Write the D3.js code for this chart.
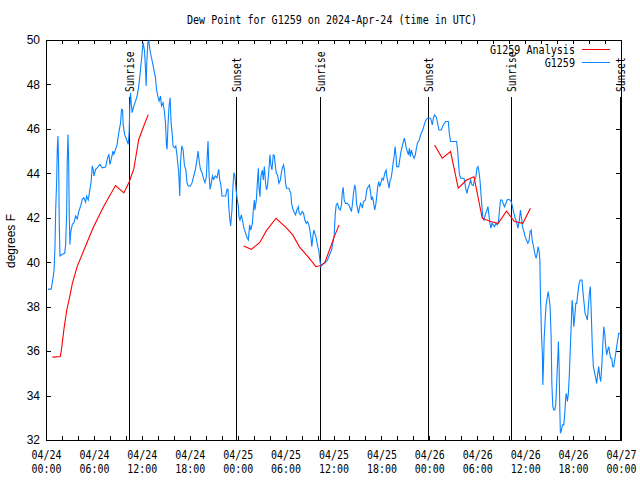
<!DOCTYPE html>
<html><head><meta charset="utf-8">
<script src="https://cdn.jsdelivr.net/npm/d3@7"></script>
<style>body{margin:0;background:#fff}</style>
</head><body>
<svg id="c" width="640" height="480"></svg>
<script>
// ---------------- data ----------------
const startTime = "2024-04-24T00:00:00Z";
const spanHours = 72;
const titleText = "Dew Point for G1259 on 2024-Apr-24 (time in UTC)";
const yLabelText = "degrees F";
const yDomain = [32, 50];
const yTickValues = [32, 34, 36, 38, 40, 42, 44, 46, 48, 50];
const seriesNames = ["G1259 Analysis", "G1259"];
const seriesColors = ["#ff0000", "#0a84ff"];
// sun events: [label, hours after start]
const sunEvents = [["Sunrise", 10.45], ["Sunset", 23.88], ["Sunrise", 34.4], ["Sunset", 47.88], ["Sunrise", 58.3], ["Sunset", 71.9]];
const sunLineTopValue = 47.43;

// analysis series (hours after start, degrees F), three separate runs
const analysis1 = [[0.8,35.73],[1.8,35.76],[1.95,36.1],[2.25,37.0],[2.6,37.85],[3.0,38.5],[3.3,39.05],[3.9,39.8],[4.75,40.55],[5.9,41.55],[7.2,42.5],[8.7,43.45],[9.75,43.12],[10.4,43.6],[11.0,44.2],[11.6,45.5],[12.05,45.95],[12.8,46.64]];
const analysis2 = [[24.75,40.73],[25.7,40.58],[26.75,40.88],[27.6,41.42],[28.8,41.98],[30.1,41.55],[30.9,41.23],[31.75,40.68],[32.8,40.25],[33.8,39.8],[34.4,39.85],[34.9,39.97],[35.5,40.55],[36.1,41.15],[36.7,41.68]];
const analysis3 = [[48.66,45.27],[49.62,44.68],[50.66,44.98],[51.62,43.33],[52.66,43.7],[53.59,43.85],[54.62,41.98],[55.66,41.83],[56.62,41.75],[57.66,42.3],[58.66,41.83],[59.71,41.75],[60.66,42.43]];

// observed series (hours after start, degrees F)
const observed = [
[0.25,38.78],[0.66,38.8],[0.79,39.08],[1.0,39.6],[1.12,40.65],[1.21,42.3],[1.34,43.73],[1.41,45.08],[1.5,45.68],[1.59,44.18],[1.66,41.78],[1.75,40.28],
[2.04,40.36],[2.34,40.4],[2.46,40.8],[2.59,42.23],[2.66,44.55],[2.75,45.75],[2.84,44.48],[2.91,42.15],[3.0,40.8],[3.09,41.33],[3.29,41.7],[3.5,41.78],
[3.71,42.08],[3.91,41.95],[4.12,42.3],[4.34,42.53],[4.54,42.83],[4.75,42.9],[4.96,42.7],[5.09,42.98],[5.29,42.8],[5.5,43.28],[5.66,43.65],[5.79,44.33],
[5.91,44.18],[6.0,43.88],[6.21,44.18],[6.41,44.25],[6.75,44.4],[7.04,44.25],[7.46,44.28],[7.66,44.63],[7.88,44.86],[8.0,44.4],[8.21,44.7],[8.38,45.0],
[8.5,44.86],[8.71,45.08],[8.91,45.3],[9.12,45.83],[9.34,46.28],[9.46,46.88],[9.59,46.85],[9.66,46.2],[9.84,45.75],[10.0,45.6],[10.16,45.45],[10.29,45.3],
[10.41,45.83],[10.5,47.1],[10.59,47.63],[10.66,47.2],[10.79,46.73],[11.0,47.03],[11.21,47.25],[11.41,47.48],[11.62,47.93],[11.84,48.68],[12.04,49.43],
[12.16,49.88],[12.34,49.5],[12.46,48.68],[12.54,47.93],[12.62,48.98],[12.75,49.88],[12.88,49.95],[13.0,49.58],[13.16,49.28],[13.34,48.98],[13.5,48.68],
[13.71,48.3],[13.84,47.78],[14.0,47.48],[14.16,47.25],[14.34,47.48],[14.46,47.03],[14.66,47.18],[14.84,46.73],[14.96,46.28],[15.09,45.23],[15.16,45.08],
[15.29,46.28],[15.41,47.03],[15.54,47.4],[15.66,46.28],[15.79,45.83],[15.91,45.23],[16.09,45.15],[16.25,45.23],[16.41,44.78],[16.62,44.03],[16.75,42.98],
[16.84,44.48],[17.0,45.23],[17.16,45.08],[17.34,44.33],[17.5,44.18],[17.66,43.58],[17.79,43.43],[18.09,43.43],[18.29,43.58],[18.5,43.88],[18.71,44.18],
[18.91,44.63],[19.04,45.0],[19.21,44.48],[19.34,44.18],[19.54,44.03],[19.75,43.73],[19.91,43.58],[20.09,43.88],[20.21,44.93],[20.29,45.45],[20.41,44.03],
[20.54,43.28],[20.71,43.58],[20.84,43.88],[21.0,43.73],[21.21,43.88],[21.41,43.8],[21.62,44.18],[21.75,43.73],[21.91,43.43],[22.04,42.98],[22.5,42.98],
[22.66,43.28],[22.79,43.28],[22.88,42.53],[23.0,42.0],[23.12,41.63],[23.29,42.38],[23.41,43.43],[23.54,44.03],[23.66,43.88],[23.79,43.28],
[23.96,42.8],[24.09,42.5],[24.16,42.05],[24.29,41.9],[24.46,42.13],[24.59,41.9],[24.79,41.53],[25.0,41.3],[25.21,41.08],[25.34,41.0],[25.5,41.68],
[25.66,41.45],[25.84,41.75],[25.96,42.35],[26.09,42.8],[26.16,42.35],[26.34,42.8],[26.46,43.55],[26.59,44.23],[26.66,43.4],[26.79,42.95],[26.91,43.85],
[27.09,44.15],[27.21,43.7],[27.34,44.3],[27.5,43.55],[27.62,43.25],[27.75,43.48],[27.91,44.15],[28.04,44.83],[28.16,44.38],[28.29,44.15],[28.46,44.83],
[28.59,44.8],[28.71,44.38],[28.84,44.0],[29.0,43.93],[29.16,43.55],[29.34,43.7],[29.46,44.0],[29.59,44.23],[29.75,44.38],[29.88,44.08],[30.0,43.55],
[30.12,43.33],[30.41,43.33],[30.66,43.1],[30.75,42.65],[30.88,42.43],[31.04,42.28],[31.25,42.13],[31.41,42.35],[31.59,42.5],[31.71,42.2],[31.88,42.13],
[32.09,42.28],[32.25,42.2],[32.41,41.9],[32.59,41.75],[32.75,41.83],[32.91,41.68],[33.04,41.45],[33.16,41.15],[33.29,40.7],[33.41,41.15],[33.54,41.45],
[33.66,41.3],[33.79,41.15],[33.91,40.93],[34.04,40.7],[34.16,40.55],[34.29,40.1],[34.41,39.8],[34.59,39.88],[34.75,39.95],[35.09,40.03],[35.25,40.1],
[35.41,40.25],[35.59,40.4],[35.75,40.55],[35.91,40.85],[36.09,41.23],[36.21,42.13],[36.34,42.58],[36.5,42.65],[36.66,42.43],[36.84,42.35],[37.0,42.58],
[37.09,43.1],[37.21,43.37],[37.34,42.8],[37.5,42.65],[37.71,42.65],[37.91,42.58],[38.09,42.43],[38.25,42.28],[38.38,42.65],[38.5,43.1],[38.66,43.48],
[38.79,43.25],[38.88,42.65],[39.0,42.43],[39.12,42.2],[39.25,42.43],[39.38,42.65],[39.5,42.58],[39.62,42.43],[39.75,42.73],[40.0,42.8],[40.16,43.25],
[40.34,43.4],[40.5,43.48],[40.66,43.1],[40.75,42.8],[40.88,42.95],[41.0,42.73],[41.16,42.35],[41.29,42.58],[41.41,42.95],[41.54,43.4],[41.66,43.63],
[41.79,43.4],[41.91,43.55],[42.09,43.78],[42.25,43.7],[42.41,44.0],[42.59,44.15],[42.71,43.78],[42.84,43.55],[42.96,43.33],[43.09,43.7],[43.21,43.78],
[43.34,44.08],[43.46,44.45],[43.59,44.75],[43.71,45.2],[43.84,44.75],[43.91,44.3],[44.16,44.3],[44.29,44.6],[44.41,44.9],[44.59,45.2],[44.75,45.43],
[44.88,45.58],[45.0,45.35],[45.12,45.13],[45.25,44.98],[45.38,44.83],[45.5,45.13],[45.62,44.75],[45.75,45.05],[45.91,44.83],[46.09,44.68],[46.25,44.83],
[46.38,45.13],[46.5,45.35],[46.62,45.43],[46.75,45.5],[46.91,45.73],[47.09,45.88],[47.25,46.03],[47.41,46.25],[47.59,46.4],[47.75,46.48],
[48.16,46.48],[48.38,46.18],[48.5,46.48],[48.66,46.63],[48.84,46.55],[49.0,46.33],[49.21,45.95],[49.5,45.95],[49.75,46.18],[50.04,46.33],[50.38,46.33],
[50.5,45.8],[50.66,45.43],[51.09,45.43],[51.41,45.43],[51.54,45.05],[51.66,44.45],[51.75,44.0],[51.91,43.78],[52.34,43.78],[52.46,43.55],[52.59,43.25],
[52.71,43.1],[52.84,43.33],[53.0,43.48],[53.16,43.7],[53.34,43.48],[53.5,43.45],[53.66,43.7],[53.84,43.85],[53.96,44.23],[54.09,44.3],[54.21,44.08],
[54.34,43.7],[54.46,43.1],[54.59,42.5],[54.71,41.98],[54.84,41.9],[55.0,42.13],[55.16,42.28],[55.34,42.5],[55.46,42.13],[55.59,41.75],[55.71,41.53],
[55.84,41.75],[56.0,41.68],[56.16,41.6],[56.34,41.75],[56.5,41.68],[56.66,41.83],[56.79,42.35],[56.91,42.8],[57.09,42.8],[57.25,42.65],[57.41,42.5],
[57.59,42.65],[57.75,42.8],[57.91,42.83],[58.09,42.8],[58.25,42.73],[58.41,42.5],[58.59,42.2],[58.75,41.98],[58.91,41.83],[59.09,41.53],[59.25,41.83],
[59.41,42.35],[59.54,42.0],[59.66,41.6],[59.84,41.38],[60.0,41.15],[60.16,41.0],[60.34,40.85],[60.5,41.0],[60.62,41.38],[60.75,41.45],[60.88,41.0],
[61.0,40.78],[61.12,40.55],[61.25,40.33],[61.38,40.18],[61.5,40.4],[61.62,40.7],[61.75,40.48],[61.84,40.1],[61.91,38.6],[62.04,36.8],[62.16,35.83],
[62.21,34.48],[62.29,35.3],[62.38,36.58],[62.5,37.4],[62.62,38.08],[62.75,38.38],[62.88,38.68],[63.0,38.38],[63.12,38.0],[63.25,36.65],[63.34,34.55],
[63.46,33.5],[63.59,33.35],[63.71,33.35],[63.84,33.65],[63.96,34.7],[64.09,35.75],[64.16,36.43],[64.25,35.3],[64.34,33.35],[64.41,32.3],[64.54,32.45],
[64.66,32.68],[64.84,32.68],[64.96,33.2],[65.09,33.95],[65.16,34.1],[65.29,33.73],[65.41,34.1],[65.54,35.0],[65.66,36.2],[65.79,37.4],[65.88,38.3],
[65.96,38.0],[66.09,37.1],[66.21,37.55],[66.34,38.15],[66.46,38.15],[66.59,38.6],[66.75,39.05],[66.91,39.2],[67.12,39.2],[67.25,38.6],[67.38,38.15],
[67.5,37.7],[67.66,37.55],[67.79,37.4],[67.91,38.0],[68.04,38.6],[68.16,38.9],[68.29,37.55],[68.41,36.2],[68.54,35.3],[68.71,35.0],[68.84,34.78],
[68.96,34.55],[69.09,35.0],[69.21,35.3],[69.34,34.85],[69.46,34.63],[69.59,35.3],[69.71,36.2],[69.84,37.1],[69.96,36.8],[70.09,36.2],[70.21,35.83],
[70.34,36.05],[70.46,36.2],[70.59,35.9],[70.71,35.68],[70.84,35.68],[70.96,35.3],[71.09,35.3],[71.21,35.6],[71.34,35.9],[71.46,36.2],[71.59,36.5],
[71.71,36.8],[71.84,36.8]
];

// ---------------- drawing ----------------
const svg = d3.select("#c");
const padL = 46, padR = 621, padT = 40, padB = 440;
const t0 = new Date(startTime);
const hrs = h => new Date(t0.getTime() + h * 3600e3);
const x = d3.scaleUtc().domain([t0, hrs(spanHours)]).range([padL, padR]);
const y = d3.scaleLinear().domain(yDomain).range([padB, padT]);

const MONO = "'DejaVu Sans Mono', monospace";
const SANS = "'Liberation Sans', Arial, sans-serif";

// title
svg.append("text").attr("x", 332).attr("y", 24).attr("text-anchor", "middle")
  .attr("font-family", MONO).attr("font-size", 12)
  .attr("textLength", 290).attr("lengthAdjust", "spacingAndGlyphs")
  .text(titleText);

// y label
svg.append("text").attr("transform", "translate(15,241) rotate(-90)")
  .attr("text-anchor", "middle").attr("font-family", SANS).attr("font-size", 12)
  .text(yLabelText);

const every2h = d3.utcHour.every(2);
// bottom axis
const gB = svg.append("g").attr("transform", `translate(0,${padB})`)
  .call(d3.axisBottom(x).ticks(every2h).tickSizeInner(-4).tickSizeOuter(0)
    .tickFormat(d => d.getUTCHours() % 6 === 0 ? d3.utcFormat("%m/%d")(d) : ""));
gB.selectAll(".tick").each(function(d) {
  const g = d3.select(this);
  const t = g.select("text");
  if (d.getUTCHours() % 6 !== 0) { t.remove(); return; }
  t.attr("y", 19).attr("dy", null).attr("font-family", MONO).attr("font-size", 12)
    .attr("fill", "#000").attr("textLength", 30).attr("lengthAdjust", "spacingAndGlyphs");
  g.append("text").attr("y", 33).attr("text-anchor", "middle").attr("font-family", MONO)
    .attr("font-size", 12).attr("fill", "#000").attr("textLength", 30)
    .attr("lengthAdjust", "spacingAndGlyphs").text(d3.utcFormat("%H:%M")(d));
});
// top axis
svg.append("g").attr("transform", `translate(0,${padT})`)
  .call(d3.axisTop(x).ticks(every2h).tickSizeInner(-4).tickSizeOuter(0).tickFormat(""));
// left axis
svg.append("g").attr("transform", `translate(${padL},0)`)
  .call(d3.axisLeft(y).tickValues(yTickValues).tickSizeInner(-5).tickSizeOuter(0).tickPadding(6))
  .selectAll("text").attr("font-family", SANS).attr("font-size", 12).attr("fill", "#000");
// right axis
svg.append("g").attr("transform", `translate(${padR},0)`)
  .call(d3.axisRight(y).tickValues(yTickValues).tickSizeInner(-5).tickSizeOuter(0).tickFormat(""));
svg.selectAll(".domain, .tick line").attr("stroke", "#000").attr("shape-rendering", "crispEdges");

// sun lines
sunEvents.forEach(([label, h]) => {
  const xp = x(hrs(h));
  svg.append("line").attr("x1", xp).attr("x2", xp).attr("y1", y(sunLineTopValue)).attr("y2", y(yDomain[0]))
    .attr("stroke", "#000").attr("stroke-width", 1).attr("shape-rendering", "crispEdges");
  svg.append("text").attr("transform", `translate(${xp + 4.5},${y(sunLineTopValue) - 5}) rotate(-90)`)
    .attr("text-anchor", "start").attr("font-family", MONO).attr("font-size", 12)
    .attr("textLength", label.length * 5.8).attr("lengthAdjust", "spacingAndGlyphs")
    .text(label);
});

// lines
const line = d3.line().x(d => x(hrs(d[0]))).y(d => y(d[1]));
const plot = svg.append("g");
plot.append("path").datum(observed).attr("d", line).attr("fill", "none")
  .attr("stroke", seriesColors[1]).attr("stroke-width", 1.1);
[analysis1, analysis2, analysis3].forEach(seg => {
  plot.append("path").datum(seg).attr("d", line).attr("fill", "none")
    .attr("stroke", seriesColors[0]).attr("stroke-width", 1.1);
});

// legend
seriesNames.forEach((name, i) => {
  const yy = 49.5 + i * 13;
  svg.append("text").attr("x", 575).attr("y", yy + 4.5).attr("text-anchor", "end")
    .attr("font-family", MONO).attr("font-size", 12)
    .attr("textLength", name.length * 6.07).attr("lengthAdjust", "spacingAndGlyphs")
    .text(name);
  svg.append("line").attr("x1", 582).attr("x2", 610).attr("y1", yy).attr("y2", yy)
    .attr("stroke", seriesColors[i]).attr("stroke-width", 1).attr("shape-rendering", "crispEdges");
});
</script>
</body></html>
